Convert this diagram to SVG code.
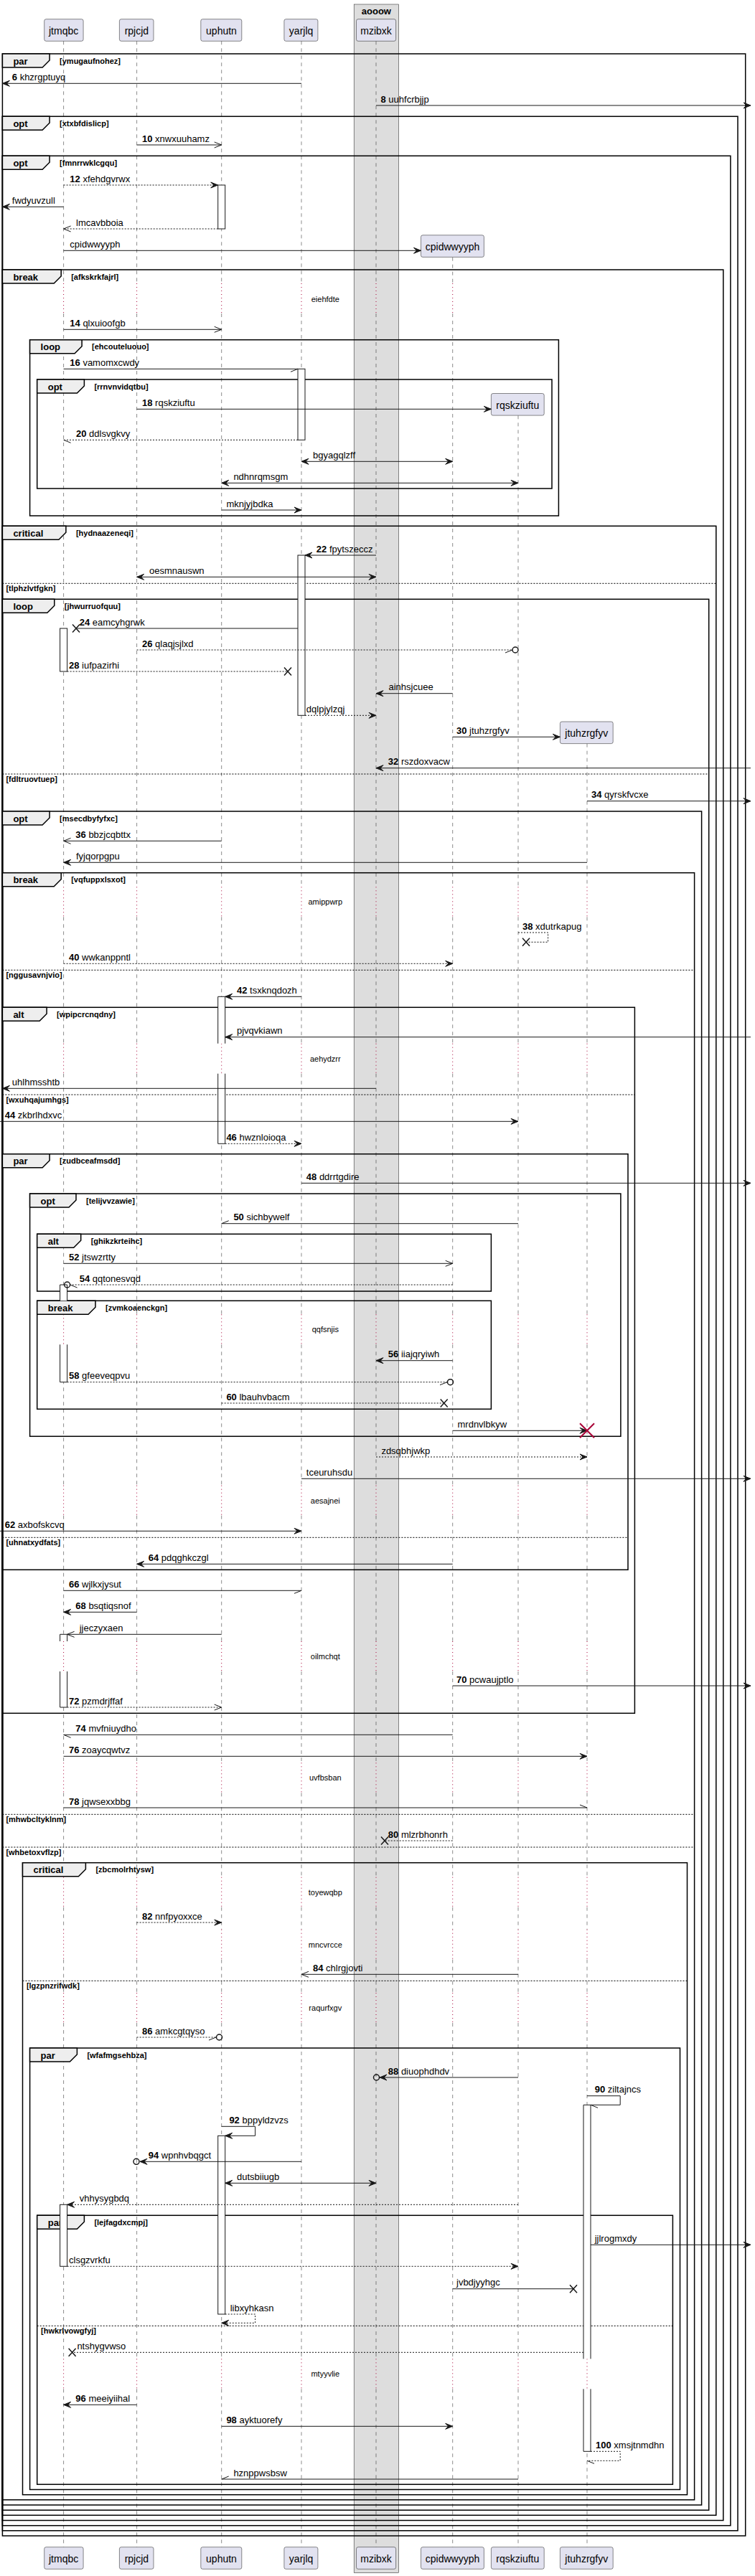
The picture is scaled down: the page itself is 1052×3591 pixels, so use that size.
<svg xmlns="http://www.w3.org/2000/svg" width="1052" height="3591" viewBox="0 0 1052 3591">
<defs>
<style>
text{font-family:'Liberation Sans',Arial,sans-serif;fill:#000}
.pb{fill:#E2E2F0;stroke:#181818;stroke-width:0.5}
.pn{font-size:14px;text-anchor:middle}
.ll{fill:none;stroke:#181818;stroke-width:0.5;stroke-dasharray:5,5}
.dl{fill:none;stroke:#A80036;stroke-width:1;stroke-dasharray:1,4}
.fr{fill:none;stroke:#000;stroke-width:1.5}
.tab{fill:#EEEEEE;stroke:#000;stroke-width:1.5}
.tl{font-size:13px;font-weight:bold}
.cd{font-size:11px;font-weight:bold}
.el{fill:none;stroke:#000;stroke-width:1;stroke-dasharray:2,2}
.m{fill:none;stroke:#181818;stroke-width:1}
.d{stroke-dasharray:2,2}
.f{marker-end:url(#ah)}
.o{marker-end:url(#oh)}
.bi{marker-start:url(#ah);marker-end:url(#ah)}
.t{font-size:13px}
.b{font-weight:bold}
.dt{font-size:11px;text-anchor:middle}
.act{fill:#fff;stroke:#181818;stroke-width:1}
.af{fill:#fff;stroke:none}
.as{fill:none;stroke:#181818;stroke-width:1}
.x{fill:none;stroke:#181818;stroke-width:1.5}
.rx{fill:none;stroke:#A80036;stroke-width:2}
.cir{fill:none;stroke:#181818;stroke-width:1.5}
</style>
<marker id="ah" viewBox="0 0 12 10" refX="11" refY="5" markerWidth="12" markerHeight="10" markerUnits="userSpaceOnUse" orient="auto-start-reverse"><path d="M1,1 L11,5 L1,9 L5,5 Z" fill="#181818" stroke="#181818" stroke-width="1"/></marker>
<marker id="oh" viewBox="0 0 12 10" refX="11" refY="5" markerWidth="12" markerHeight="10" markerUnits="userSpaceOnUse" orient="auto-start-reverse"><path d="M1,1 L11,5 L1,9" fill="none" stroke="#181818" stroke-width="1"/></marker>
<path id="lt1" class="ll" d="M0,437 V1236.3"/>
<path id="lt2" class="ll" d="M0,1278.3 V1454.7 M0,1496.7 V1832.3 M0,1874.3 V2070.7 M0,2112.7 V2288 M0,2330 V2457.3 M0,2499.3 V2616.7 M0,2658.7 V2689.7 M0,2731.7 V2778 M0,2820 V3288.3 M0,3330.3 V3550.7"/>
<path id="dg1" class="dl" d="M0,395 V437"/>
<path id="dg2" class="dl" d="M0,1236.3 V1278.3 M0,1454.7 V1496.7 M0,1832.3 V1874.3 M0,2070.7 V2112.7 M0,2288 V2330 M0,2457.3 V2499.3 M0,2616.7 V2658.7 M0,2689.7 V2731.7 M0,2778 V2820 M0,3288.3 V3330.3"/>
</defs>
<rect width="1052" height="3591" fill="#fff"/>
<g id="box-aooow">
<rect x="493.2" y="6" width="62.4" height="3580.7" fill="#DDDDDD" stroke="#181818" stroke-width="0.5"/>
<text class="tl" x="524.4" y="19.5" text-anchor="middle">aooow</text>
</g>
<g id="lifelines">
<path class="ll" d="M88.6,57.3 V395 M190.6,57.3 V395 M308.7,57.3 V395 M420,57.3 V395 M524,57.3 V395 M630.7,358.7 V395 M722,579.3 V1236.3 M818,1036.7 V1236.3"/>
<use href="#lt1" x="88.6"/><use href="#lt1" x="190.6"/><use href="#lt1" x="308.7"/><use href="#lt1" x="420"/><use href="#lt1" x="524"/><use href="#lt1" x="630.7"/>
<use href="#lt2" x="88.6"/><use href="#lt2" x="190.6"/><use href="#lt2" x="308.7"/><use href="#lt2" x="420"/><use href="#lt2" x="524"/><use href="#lt2" x="630.7"/><use href="#lt2" x="722"/><use href="#lt2" x="818"/>
<use href="#dg1" x="88.6"/><use href="#dg1" x="190.6"/><use href="#dg1" x="308.7"/><use href="#dg1" x="420"/><use href="#dg1" x="524"/><use href="#dg1" x="630.7"/>
<use href="#dg2" x="88.6"/><use href="#dg2" x="190.6"/><use href="#dg2" x="308.7"/><use href="#dg2" x="420"/><use href="#dg2" x="524"/><use href="#dg2" x="630.7"/><use href="#dg2" x="722"/><use href="#dg2" x="818"/>
</g>
<g id="p-jtmqbc"><rect class="pb" x="61.7" y="26.7" width="54.4" height="30.6" rx="2.5"/><text class="pn" x="88.6" y="47.7">jtmqbc</text><rect class="pb" x="61.7" y="3550.7" width="54.4" height="30.6" rx="2.5"/><text class="pn" x="88.6" y="3571.7">jtmqbc</text></g>
<g id="p-rpjcjd"><rect class="pb" x="166.4" y="26.7" width="47.6" height="30.6" rx="2.5"/><text class="pn" x="190.4" y="47.7">rpjcjd</text><rect class="pb" x="166.4" y="3550.7" width="47.6" height="30.6" rx="2.5"/><text class="pn" x="190.4" y="3571.7">rpjcjd</text></g>
<g id="p-uphutn"><rect class="pb" x="279.8" y="26.7" width="57" height="30.6" rx="2.5"/><text class="pn" x="308.5" y="47.7">uphutn</text><rect class="pb" x="279.8" y="3550.7" width="57" height="30.6" rx="2.5"/><text class="pn" x="308.5" y="3571.7">uphutn</text></g>
<g id="p-yarjlq"><rect class="pb" x="395.9" y="26.7" width="47" height="30.6" rx="2.5"/><text class="pn" x="419.6" y="47.7">yarjlq</text><rect class="pb" x="395.9" y="3550.7" width="47" height="30.6" rx="2.5"/><text class="pn" x="419.6" y="3571.7">yarjlq</text></g>
<g id="p-mzibxk"><rect class="pb" x="496.5" y="26.7" width="55.1" height="30.6" rx="2.5"/><text class="pn" x="524" y="47.7">mzibxk</text><rect class="pb" x="496.5" y="3550.7" width="55.1" height="30.6" rx="2.5"/><text class="pn" x="524" y="3571.7">mzibxk</text></g>
<g id="p-cpidwwyyph"><rect class="pb" x="586.5" y="327.8" width="87.9" height="30.6" rx="2.5"/><text class="pn" x="630.5" y="348.8">cpidwwyyph</text><rect class="pb" x="586.5" y="3550.7" width="87.9" height="30.6" rx="2.5"/><text class="pn" x="630.5" y="3571.7">cpidwwyyph</text></g>
<g id="p-rqskziuftu"><rect class="pb" x="684.4" y="548.5" width="73.8" height="30.6" rx="2.5"/><text class="pn" x="721.3" y="569.5">rqskziuftu</text><rect class="pb" x="684.4" y="3550.7" width="73.8" height="30.6" rx="2.5"/><text class="pn" x="721.3" y="3571.7">rqskziuftu</text></g>
<g id="p-jtuhzrgfyv"><rect class="pb" x="780.4" y="1006" width="73.8" height="30.6" rx="2.5"/><text class="pn" x="817.3" y="1027">jtuhzrgfyv</text><rect class="pb" x="780.4" y="3550.7" width="73.8" height="30.6" rx="2.5"/><text class="pn" x="817.3" y="3571.7">jtuhzrgfyv</text></g>
<g id="frames">
<g id="f1"><rect class="fr" x="3.4" y="75" width="1035.3" height="3460"/><path class="tab" d="M3.4,75 H69.1 V84 L59.1,94 H3.4 Z"/><text class="tl" x="18.4" y="89.5">par</text><text class="cd" x="83.1" y="88.5">[ymugaufnohez]</text></g>
<g id="f2"><rect class="fr" x="3.4" y="162.3" width="1024.6" height="3365.5"/><path class="tab" d="M3.4,162.3 H69.1 V171.3 L59.1,181.3 H3.4 Z"/><text class="tl" x="18.4" y="176.8">opt</text><text class="cd" x="83.1" y="175.8">[xtxbfdislicp]</text></g>
<g id="f3"><rect class="fr" x="3.4" y="217.3" width="1014.5" height="3303.4"/><path class="tab" d="M3.4,217.3 H69.1 V226.3 L59.1,236.3 H3.4 Z"/><text class="tl" x="18.4" y="231.8">opt</text><text class="cd" x="83.1" y="230.8">[fmnrrwklcgqu]</text></g>
<g id="f4"><rect class="fr" x="3.4" y="376" width="1004.4" height="3137.5"/><path class="tab" d="M3.4,376 H85.2 V385 L75.2,395 H3.4 Z"/><text class="tl" x="18.4" y="390.5">break</text><text class="cd" x="99.2" y="389.5">[afkskrkfajrl]</text></g>
<g id="f5"><rect class="fr" x="41.6" y="473.7" width="736.8" height="245.3"/><path class="tab" d="M41.6,473.7 H114.1 V482.7 L104.1,492.7 H41.6 Z"/><text class="tl" x="56.6" y="488.2">loop</text><text class="cd" x="128.1" y="487.2">[ehcouteluouo]</text></g>
<g id="f6"><rect class="fr" x="51.7" y="529" width="717.3" height="152"/><path class="tab" d="M51.7,529 H117.4 V538 L107.4,548 H51.7 Z"/><text class="tl" x="66.7" y="543.5">opt</text><text class="cd" x="131.4" y="542.5">[rrnvnvidqtbu]</text></g>
<g id="f7"><rect class="fr" x="3.4" y="733.3" width="994.4" height="2773"/><path class="tab" d="M3.4,733.3 H91.9 V742.3 L81.9,752.3 H3.4 Z"/><text class="tl" x="18.4" y="747.8">critical</text><text class="cd" x="105.9" y="746.8">[hydnaazeneqi]</text><path class="el" d="M3.4,813.3 H997.8"/><text class="cd" x="8.4" y="824.3">[tlphzlvtfgkn]</text></g>
<g id="f8"><rect class="fr" x="3.4" y="835.3" width="984.3" height="2663.9"/><path class="tab" d="M3.4,835.3 H75.8 V844.3 L65.8,854.3 H3.4 Z"/><text class="tl" x="18.4" y="849.8">loop</text><text class="cd" x="89.8" y="848.8">[jhwurruofquu]</text><path class="el" d="M3.4,1079 H987.7"/><text class="cd" x="8.4" y="1090">[fdltruovtuep]</text></g>
<g id="f9"><rect class="fr" x="3.4" y="1131" width="974.2" height="2361"/><path class="tab" d="M3.4,1131 H69.1 V1140 L59.1,1150 H3.4 Z"/><text class="tl" x="18.4" y="1145.5">opt</text><text class="cd" x="83.1" y="1144.5">[msecdbyfyfxc]</text></g>
<g id="f10"><rect class="fr" x="3.4" y="1216.7" width="964.2" height="2268.1"/><path class="tab" d="M3.4,1216.7 H85.2 V1225.7 L75.2,1235.7 H3.4 Z"/><text class="tl" x="18.4" y="1231.2">break</text><text class="cd" x="99.2" y="1230.2">[vqfuppxlsxot]</text><path class="el" d="M3.4,1352.3 H967.6 M3.4,2529.3 H967.6 M3.4,2575 H967.6"/><text class="cd" x="8.4" y="1363.3">[nggusavnjvio]</text><text class="cd" x="8.4" y="2540.3">[mhwbcltyklnm]</text><text class="cd" x="8.4" y="2586">[whbetoxvflzp]</text></g>
<g id="f11"><rect class="fr" x="3.4" y="1404.3" width="881" height="984"/><path class="tab" d="M3.4,1404.3 H65.1 V1413.3 L55.1,1423.3 H3.4 Z"/><text class="tl" x="18.4" y="1418.8">alt</text><text class="cd" x="79.1" y="1417.8">[wpipcrcnqdny]</text><path class="el" d="M3.4,1526 H884.4"/><text class="cd" x="8.4" y="1537">[wxuhqajumhgs]</text></g>
<g id="f12"><rect class="fr" x="3.4" y="1608.7" width="871.6" height="579.6"/><path class="tab" d="M3.4,1608.7 H69.1 V1617.7 L59.1,1627.7 H3.4 Z"/><text class="tl" x="18.4" y="1623.2">par</text><text class="cd" x="83.1" y="1622.2">[zudbceafmsdd]</text><path class="el" d="M3.4,2143.3 H875"/><text class="cd" x="8.4" y="2154.3">[uhnatxydfats]</text></g>
<g id="f13"><rect class="fr" x="41.6" y="1664" width="823.3" height="338.3"/><path class="tab" d="M41.6,1664 H106 V1673 L96,1683 H41.6 Z"/><text class="tl" x="56.6" y="1678.5">opt</text><text class="cd" x="120" y="1677.5">[telijvvzawie]</text></g>
<g id="f14"><rect class="fr" x="51.7" y="1720.3" width="632.7" height="79.7"/><path class="tab" d="M51.7,1720.3 H112.7 V1729.3 L102.7,1739.3 H51.7 Z"/><text class="tl" x="66.7" y="1734.8">alt</text><text class="cd" x="126.7" y="1733.8">[ghikzkrteihc]</text></g>
<g id="f15"><rect class="fr" x="51.7" y="1813.3" width="632.7" height="151"/><path class="tab" d="M51.7,1813.3 H133 V1822.3 L123,1832.3 H51.7 Z"/><text class="tl" x="66.7" y="1827.8">break</text><text class="cd" x="147" y="1826.8">[zvmkoaenckgn]</text></g>
<g id="f16"><rect class="fr" x="31.5" y="2596.7" width="926" height="881"/><path class="tab" d="M31.5,2596.7 H119.4 V2605.7 L109.4,2615.7 H31.5 Z"/><text class="tl" x="46.5" y="2611.2">critical</text><text class="cd" x="133.4" y="2610.2">[zbcmolrhtysw]</text><path class="el" d="M31.5,2761.3 H957.5"/><text class="cd" x="36.9" y="2772.3">[lgzpnzrifwdk]</text></g>
<g id="f17"><rect class="fr" x="41.6" y="2855" width="905.9" height="615.5"/><path class="tab" d="M41.6,2855 H107.4 V2864 L97.4,2874 H41.6 Z"/><text class="tl" x="56.6" y="2869.5">par</text><text class="cd" x="121.4" y="2868.5">[wfafmgsehbza]</text></g>
<g id="f18"><rect class="fr" x="51.7" y="3088.3" width="885.7" height="375"/><path class="tab" d="M51.7,3088.3 H117.4 V3097.3 L107.4,3107.3 H51.7 Z"/><text class="tl" x="66.7" y="3102.8">par</text><text class="cd" x="131.4" y="3101.8">[lejfagdxcmpj]</text><path class="el" d="M51.7,3242.3 H937.4"/><text class="cd" x="57" y="3253.3">[hwkrlvowgfyj]</text></g>
</g>
<g id="delays">
<text class="dt" x="453.3" y="421.3">eiehfdte</text>
<text class="dt" x="453.3" y="1261.3">amippwrp</text>
<text class="dt" x="453.3" y="1479.7">aehydzrr</text>
<text class="dt" x="453.3" y="1857.3">qqfsnjis</text>
<text class="dt" x="453.3" y="2095.7">aesajnei</text>
<text class="dt" x="453.3" y="2313">oilmchqt</text>
<text class="dt" x="453.3" y="2482.3">uvfbsban</text>
<text class="dt" x="453.3" y="2641.7">toyewqbp</text>
<text class="dt" x="453.3" y="2714.7">mncvrcce</text>
<text class="dt" x="453.3" y="2803">raqurfxgv</text>
<text class="dt" x="453.3" y="3313.3">mtyyvlie</text>
</g>
<g id="activations">
<rect class="act" x="303.7" y="258" width="10" height="61"/>
<rect class="act" x="415" y="514.3" width="10" height="99"/>
<rect class="act" x="415" y="774" width="10" height="223.3"/>
<rect class="act" x="83.6" y="876" width="10" height="60"/>
<rect class="af" x="303.7" y="1389.3" width="10" height="65.4"/><path class="as" d="M303.7,1454.7 V1389.3 H313.7 V1454.7"/>
<rect class="af" x="303.7" y="1496.7" width="10" height="97.6"/><path class="as" d="M303.7,1496.7 V1594.3 H313.7 V1496.7"/>
<rect class="af" x="83.6" y="1791" width="10" height="22.3"/><path class="as" d="M83.6,1813.3 V1791 H93.6 V1813.3"/>
<rect class="af" x="83.6" y="1874.3" width="10" height="52.4"/><path class="as" d="M83.6,1874.3 V1926.7 H93.6 V1874.3"/>
<rect class="af" x="83.6" y="2278.3" width="10" height="9.7"/><path class="as" d="M83.6,2288 V2278.3 H93.6 V2288"/>
<rect class="af" x="83.6" y="2330" width="10" height="50"/><path class="as" d="M83.6,2330 V2380 H93.6 V2330"/>
<rect class="af" x="813" y="2934.3" width="10" height="354"/><path class="as" d="M813,3288.3 V2934.3 H823 V3288.3"/>
<rect class="af" x="813" y="3330.3" width="10" height="87"/><path class="as" d="M813,3330.3 V3417.3 H823 V3330.3"/>
<rect class="act" x="303.7" y="2977.3" width="10" height="248.7"/>
<rect class="act" x="83.6" y="3073.3" width="10" height="86"/>
</g>
<g id="connectors">
<path class="m f" d="M420,116.3 H3.4"/><text class="t" x="16.8" y="111.8"><tspan class="b">6</tspan> khzrgptuyq</text>
<path class="m f" d="M524,147 H1046"/><text class="t" x="530.5" y="142.5"><tspan class="b">8</tspan> uuhfcrbjjp</text>
<path class="m o" d="M190.6,202 H308.7"/><text class="t" x="198" y="197.5"><tspan class="b">10</tspan> xnwxuuhamz</text>
<path class="m d f" d="M88.6,258 H303.7"/><text class="t" x="97.3" y="253.5"><tspan class="b">12</tspan> xfehdgvrwx</text>
<path class="m f" d="M88.6,288.3 H3.4"/><text class="t" x="16.8" y="283.8">fwdyuvzull</text>
<path class="m d o" d="M303.7,319 H88.6"/><text class="t" x="106" y="314.5">lmcavbboia</text>
<path class="m f" d="M88.6,349.3 H586.5"/><text class="t" x="97.3" y="344.8">cpidwwyyph</text>
<path class="m o" d="M88.6,459.3 H308.7"/><text class="t" x="97.3" y="454.8"><tspan class="b">14</tspan> qlxuioofgb</text>
<path class="m" d="M88.6,514.3 H415 M405,518.3 L415,514.3"/><text class="t" x="97.3" y="509.8"><tspan class="b">16</tspan> vamomxcwdy</text>
<path class="m f" d="M190.6,570.3 H684.4"/><text class="t" x="198" y="565.8"><tspan class="b">18</tspan> rqskziuftu</text>
<path class="m d" d="M415,613.3 H88.6"/><path class="m" d="M98.6,617.3 L88.6,613.3"/><text class="t" x="106" y="608.8"><tspan class="b">20</tspan> ddlsvgkvy</text>
<path class="m bi" d="M420,643.3 H630.7"/><text class="t" x="436" y="638.8">bgyagqlzff</text>
<path class="m bi" d="M308.7,673.3 H722"/><text class="t" x="325.4" y="668.8">ndhnrqmsgm</text>
<path class="m f" d="M308.7,711 H420"/><text class="t" x="315.4" y="706.5">mknjyjbdka</text>
<path class="m f" d="M524,774 H425"/><text class="t" x="440.8" y="769.5"><tspan class="b">22</tspan> fpytszeccz</text>
<path class="m bi" d="M190.6,804.3 H524"/><text class="t" x="208" y="799.8">oesmnauswn</text>
<path class="m" d="M415,876 H106"/><path class="x" d="M101,870.5 L111,881.5 M101,881.5 L111,870.5"/><text class="t" x="110.7" y="871.5"><tspan class="b">24</tspan> eamcyhgrwk</text>
<path class="m d" d="M190.6,906 H714"/><path class="m" d="M704,910 L714,906"/><circle class="cir" cx="718" cy="906" r="4"/><text class="t" x="198" y="901.5"><tspan class="b">26</tspan> qlaqjsjlxd</text>
<path class="m d" d="M93.6,936 H401"/><path class="x" d="M396,930.5 L406,941.5 M396,941.5 L406,930.5"/><text class="t" x="96" y="931.5"><tspan class="b">28</tspan> iufpazirhi</text>
<path class="m f" d="M630.7,966.7 H524"/><text class="t" x="541.5" y="962.2">ainhsjcuee</text>
<path class="m d f" d="M425,997.3 H524"/><text class="t" x="426.8" y="992.8">dqlpjylzqj</text>
<path class="m f" d="M630.7,1027.3 H780.4"/><text class="t" x="636" y="1022.8"><tspan class="b">30</tspan> jtuhzrgfyv</text>
<path class="m f" d="M1046,1070.7 H524"/><text class="t" x="540.8" y="1066.2"><tspan class="b">32</tspan> rszdoxvacw</text>
<path class="m f" d="M818,1116.7 H1046"/><text class="t" x="824" y="1112.2"><tspan class="b">34</tspan> qyrskfvcxe</text>
<path class="m o" d="M308.7,1172.3 H88.6"/><text class="t" x="105.3" y="1167.8"><tspan class="b">36</tspan> bbzjcqbttx</text>
<path class="m f" d="M818,1202.3 H88.6"/><text class="t" x="106" y="1197.8">fyjqorpgpu</text>
<path class="m d" d="M722,1300 H763.6 V1313.3 H733"/><path class="x" d="M728,1307.8 L738,1318.8 M728,1318.8 L738,1307.8"/><text class="t" x="728" y="1295.5"><tspan class="b">38</tspan> xdutrkapug</text>
<path class="m d f" d="M88.6,1343.3 H630.7"/><text class="t" x="96" y="1338.8"><tspan class="b">40</tspan> wwkanppntl</text>
<path class="m f" d="M420,1389.3 H313.7"/><text class="t" x="330" y="1384.8"><tspan class="b">42</tspan> tsxknqdozh</text>
<path class="m f" d="M1046,1445.7 H313.7"/><text class="t" x="330" y="1441.2">pjvqvkiawn</text>
<path class="m f" d="M524,1517.3 H3.4"/><text class="t" x="16.8" y="1512.8">uhlhmsshtb</text>
<path class="m f" d="M0,1563.3 H722"/><text class="t" x="6.7" y="1558.8"><tspan class="b">44</tspan> zkbrlhdxvc</text>
<path class="m d f" d="M313.7,1594.3 H420"/><text class="t" x="315.4" y="1589.8"><tspan class="b">46</tspan> hwznloioqa</text>
<path class="m f" d="M420,1649.3 H1046"/><text class="t" x="426.8" y="1644.8"><tspan class="b">48</tspan> ddrrtgdire</text>
<path class="m" d="M722,1705.7 H308.7 M318.7,1701.7 L308.7,1705.7"/><text class="t" x="325.4" y="1701.2"><tspan class="b">50</tspan> sichbywelf</text>
<path class="m o" d="M88.6,1761.3 H630.7"/><text class="t" x="96" y="1756.8"><tspan class="b">52</tspan> jtswzrtty</text>
<path class="m d" d="M630.7,1791 H97.6"/><path class="m" d="M107.6,1795 L97.6,1791"/><circle class="cir" cx="93.6" cy="1791" r="4"/><text class="t" x="110.7" y="1786.5"><tspan class="b">54</tspan> qqtonesvqd</text>
<path class="m f" d="M630.7,1896.7 H524"/><text class="t" x="540.8" y="1892.2"><tspan class="b">56</tspan> iiajqryiwh</text>
<path class="m d" d="M93.6,1926.7 H623"/><path class="m" d="M613,1930.7 L623,1926.7"/><circle class="cir" cx="627.5" cy="1926.7" r="4"/><text class="t" x="96" y="1922.2"><tspan class="b">58</tspan> gfeeveqpvu</text>
<path class="m d" d="M308.7,1956 H618.7"/><path class="x" d="M613.7,1950.5 L623.7,1961.5 M613.7,1961.5 L623.7,1950.5"/><text class="t" x="315.4" y="1951.5"><tspan class="b">60</tspan> lbauhvbacm</text>
<path class="m f" d="M630.7,1994.3 H818"/><path class="rx" d="M808,1984.3 L828,2004.3 M808,2004.3 L828,1984.3"/><text class="t" x="637.5" y="1989.8">mrdnvlbkyw</text>
<path class="m d f" d="M524,2031 H818"/><text class="t" x="531.4" y="2026.5">zdsqbhjwkp</text>
<path class="m f" d="M420,2061.3 H1046"/><text class="t" x="426.8" y="2056.8">tceuruhsdu</text>
<path class="m f" d="M0,2134.3 H420"/><text class="t" x="6.7" y="2129.8"><tspan class="b">62</tspan> axbofskcvq</text>
<path class="m f" d="M630.7,2180.3 H190.6"/><text class="t" x="206.7" y="2175.8"><tspan class="b">64</tspan> pdqghkczgl</text>
<path class="m" d="M88.6,2217.3 H420 M410,2221.3 L420,2217.3"/><text class="t" x="96" y="2212.8"><tspan class="b">66</tspan> wjlkxjysut</text>
<path class="m f" d="M190.6,2247.3 H88.6"/><text class="t" x="105.3" y="2242.8"><tspan class="b">68</tspan> bsqtiqsnof</text>
<path class="m o" d="M308.7,2278.3 H93.6"/><text class="t" x="110.7" y="2273.8">jjeczyxaen</text>
<path class="m f" d="M630.7,2350 H1046"/><text class="t" x="636" y="2345.5"><tspan class="b">70</tspan> pcwaujptlo</text>
<path class="m d o" d="M93.6,2380 H308.7"/><text class="t" x="96" y="2375.5"><tspan class="b">72</tspan> pzmdrjffaf</text>
<path class="m" d="M630.7,2418.3 H88.6 M98.6,2422.3 L88.6,2418.3"/><text class="t" x="105.3" y="2413.8"><tspan class="b">74</tspan> mvfniuydho</text>
<path class="m f" d="M88.6,2448.3 H818"/><text class="t" x="96" y="2443.8"><tspan class="b">76</tspan> zoaycqwtvz</text>
<path class="m" d="M88.6,2520 H818 M808,2516 L818,2520"/><text class="t" x="96" y="2515.5"><tspan class="b">78</tspan> jqwsexxbbg</text>
<path class="m d" d="M630.7,2566 H536"/><path class="x" d="M531,2560.5 L541,2571.5 M531,2571.5 L541,2560.5"/><text class="t" x="540.8" y="2561.5"><tspan class="b">80</tspan> mlzrbhonrh</text>
<path class="m d f" d="M190.6,2680 H308.7"/><text class="t" x="198" y="2675.5"><tspan class="b">82</tspan> nnfpyoxxce</text>
<path class="m o" d="M722,2752.3 H420"/><text class="t" x="436" y="2747.8"><tspan class="b">84</tspan> chlrgjovti</text>
<path class="m d" d="M190.6,2840 H301"/><path class="m" d="M291,2844 L301,2840"/><circle class="cir" cx="305.5" cy="2840" r="4"/><text class="t" x="198" y="2835.5"><tspan class="b">86</tspan> amkcgtqyso</text>
<path class="m f" d="M722,2896 H529"/><circle class="cir" cx="524.5" cy="2896" r="4"/><text class="t" x="540.8" y="2891.5"><tspan class="b">88</tspan> diuophdhdv</text>
<path class="m" d="M818,2921.7 H864.2 V2934.3 H823 M833,2938.3 L823,2934.3"/><text class="t" x="828.7" y="2917.2"><tspan class="b">90</tspan> ziltajncs</text>
<path class="m f" d="M308.7,2964.3 H355.6 V2977.3 H313.7"/><text class="t" x="319.4" y="2959.8"><tspan class="b">92</tspan> bppyldzvzs</text>
<path class="m f" d="M420,3013.3 H195"/><circle class="cir" cx="190" cy="3013.3" r="4"/><text class="t" x="206.7" y="3008.8"><tspan class="b">94</tspan> wpnhvbqgct</text>
<path class="m bi" d="M313.7,3043.3 H524"/><text class="t" x="330" y="3038.8">dutsbiiugb</text>
<path class="m d f" d="M722,3073.3 H93.6"/><text class="t" x="110.7" y="3068.8">vhhysygbdq</text>
<path class="m f" d="M823,3129.3 H1046"/><text class="t" x="828.7" y="3124.8">jjlrogmxdy</text>
<path class="m d f" d="M93.6,3159.3 H722"/><text class="t" x="96" y="3154.8">clsgzvrkfu</text>
<path class="m" d="M630.7,3190.7 H799"/><path class="x" d="M794,3185.2 L804,3196.2 M794,3196.2 L804,3185.2"/><text class="t" x="636" y="3186.2">jvbdjyyhgc</text>
<path class="m d f" d="M313.7,3226 H355.6 V3238.3 H308.7"/><text class="t" x="320.7" y="3221.5">libxyhkasn</text>
<path class="m d" d="M813,3279.3 H100.6"/><path class="x" d="M95.6,3273.8 L105.6,3284.8 M95.6,3284.8 L105.6,3273.8"/><text class="t" x="107.4" y="3274.8">ntshygvwso</text>
<path class="m f" d="M190.6,3352.3 H88.6"/><text class="t" x="105.3" y="3347.8"><tspan class="b">96</tspan> meeiyiihal</text>
<path class="m f" d="M308.7,3382.3 H630.7"/><text class="t" x="315.4" y="3377.8"><tspan class="b">98</tspan> ayktuorefy</text>
<path class="m d" d="M823,3417.3 H864.2 V3430.3 H818"/><path class="m" d="M828,3434.3 L818,3430.3"/><text class="t" x="830" y="3412.8"><tspan class="b">100</tspan> xmsjtnmdhn</text>
<path class="m" d="M722,3456 H308.7 M318.7,3452 L308.7,3456"/><text class="t" x="325.4" y="3451.5">hznppwsbsw</text>
</g>
</svg>
